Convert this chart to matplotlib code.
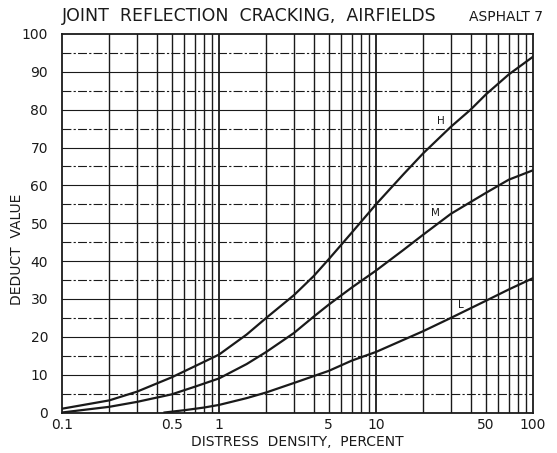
import matplotlib.pyplot as plt
import numpy as np

h_x = [0.1, 0.2, 0.3, 0.5, 0.7, 1, 1.5, 2, 3, 4, 5, 7, 10, 15, 20, 30, 40, 50, 70, 100]
h_y = [1, 3.2, 5.5, 9.3, 12.2, 15.3, 20.6, 25, 31, 36, 40.5, 47.5, 55, 63, 68.5, 75.5, 80, 84, 89.3, 94]

m_x = [0.1, 0.2, 0.3, 0.5, 0.7, 1, 1.5, 2, 3, 4, 5, 7, 10, 15, 20, 30, 50, 70, 100]
m_y = [0, 1.5, 2.8, 4.8, 6.8, 9, 12.8, 16, 21, 25.3, 28.5, 33, 37.5, 43, 47, 52.5, 58, 61.5, 64]

l_x = [0.45, 0.6, 0.8, 1, 1.5, 2, 3, 5, 7, 10, 20, 30, 50, 70, 100]
l_y = [0, 0.6, 1.3, 2, 3.8, 5.3, 7.8, 11, 13.7, 16, 21.5, 25, 29.5, 32.5, 35.5]

x_ticks = [0.1, 0.5, 1, 5, 10, 50, 100]
x_tick_labels = ['0.1', '0.5', '1', '5', '10', '50', '100']
y_ticks = list(range(0, 101, 10))

ink = '#1a1a1a'
plt.rcParams['font.family'] = ['DejaVu Sans']

fig = plt.figure(figsize=(5.57, 4.53), dpi=100)
ax = fig.add_axes([0.1113, 0.0894, 0.8457, 0.8356])
ax.set_xscale('log')
ax.set_xlim(0.1, 100)
ax.set_ylim(0, 100)

# grid: vertical lines at every 1..9 of each decade
for dec in [0.1, 1, 10]:
    for k in range(2, 10):
        ax.axvline(dec * k, color=ink, lw=1.0, zorder=1)
ax.axvline(1, color=ink, lw=1.3, zorder=1)
ax.axvline(10, color=ink, lw=1.3, zorder=1)
for v in range(5, 100, 5):
    if v % 10 == 0:
        ax.axhline(v, color=ink, lw=0.8, zorder=1)
    else:
        ax.axhline(v, color=ink, lw=0.8, ls=(0, (8, 2, 2, 2)), zorder=1)

# curves
ax.plot(h_x, h_y, color=ink, lw=1.6, zorder=3)
ax.plot(m_x, m_y, color=ink, lw=1.6, zorder=3)
ax.plot(l_x, l_y, color=ink, lw=1.6, zorder=3)

ax.text(26, 77, 'H', fontsize=7.5, ha='center', va='center', color=ink)
ax.text(23.8, 52.7, 'M', fontsize=7.5, ha='center', va='center', color=ink)
ax.text(34.5, 28.4, 'L', fontsize=7.5, ha='center', va='center', color=ink)

ax.set_xticks(x_ticks)
ax.set_xticklabels(x_tick_labels)
ax.xaxis.set_minor_locator(plt.NullLocator())
ax.set_yticks(y_ticks)
ax.tick_params(axis='both', length=0, labelsize=10, colors=ink)
ax.tick_params(axis='x', pad=4)
ax.tick_params(axis='y', pad=10)

for s in ax.spines.values():
    s.set_color(ink)
    s.set_linewidth(1.3)

ax.set_xlabel('DISTRESS  DENSITY,  PERCENT', fontsize=10, color=ink, labelpad=2)
ax.set_ylabel('DEDUCT  VALUE', fontsize=10, color=ink)
ax.yaxis.set_label_coords(-0.08, 0.43)

fig.text(0.1113, 0.965, 'JOINT  REFLECTION  CRACKING,  AIRFIELDS', fontsize=12.5,
         ha='left', va='center', color=ink)
fig.text(0.975, 0.962, 'ASPHALT 7', fontsize=10, ha='right', va='center', color=ink)

fig.savefig('out.png', dpi=100)
